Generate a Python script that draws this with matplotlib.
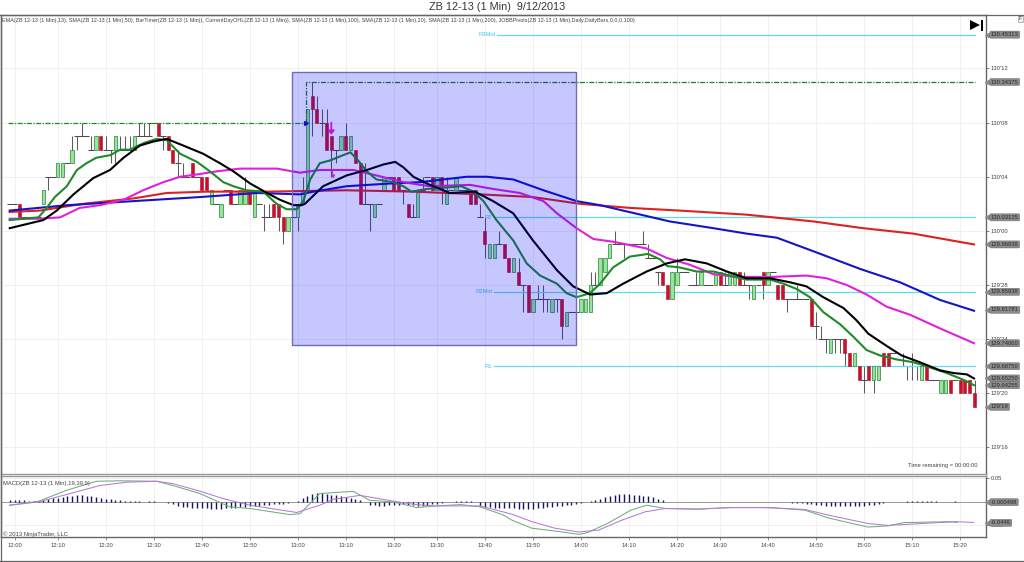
import numpy as np
import matplotlib
matplotlib.use("Agg")
import matplotlib.pyplot as plt
from matplotlib.patches import Rectangle, Polygon

plt.rcParams['font.family'] = ['Liberation Sans', 'DejaVu Sans']

# ---- data: bars from index -1 (11:59) to 200 (15:23), prices in 32nds above 129'00
first_bar = -1
open_32 = [34,
 34,34,33,33,33,33,34,36,36,36, 36,37,37,39,39,39,38,38,39,38,
 38,38,38,38,38,38,39,39,39,40, 40,39,39,38,37,36,36,37,36,36,
 36,34,34,33,35,35,34,34,34,35, 33,34,33,33,34,34,33,32,33,33,
 34,35,42,41,40,40,39,38,38,39, 38,38,37,34,34,33,34,35,36,36,
 36,35,34,33,33,35,36,36,35,36, 34,35,35,35,35,35,35,33,32,30,
 30,31,31,30,29,29,28,28,26,27, 27,27,26,27,27,25,26,26,26,26,
 26,28,28,29,30,31,31,31,31,31, 31,31,30,30,29,29,28,27,28,29,
 29,28,28,28,28,28,28,29,28,28, 28,29,28,28,27,28,29,28,29,28,
 28,27,27,27,27,27,27,25,24,24, 23,24,24,24,23,22,22,21,22,21,
 21,23,23,23,22,22,22,22,22,21, 22,21,21,20,20,21,21,21,21,21,20]
close_32 = [34,
 34,33,33,33,33,33,35,36,36,37, 37,37,38,39,39,39,38,39,38,38,
 38,39,38,38,38,39,39,39,39,40, 39,39,38,37,37,36,36,36,36,35,
 35,35,34,34,35,34,34,35,35,34, 35,34,33,33,33,33,32,33,33,34,
 35,41,41,40,40,38,38,38,39,38, 39,37,34,34,34,34,34,36,36,35,
 35,35,33,33,35,35,36,35,36,35, 35,35,36,35,35,34,34,33,31,31,
 31,31,30,29,30,28,28,26,27,27, 27,27,27,27,25,26,26,26,27,27,
 28,28,30,30,31,31,31,31,31,31, 31,31,30,30,29,28,27,29,29,29,
 29,28,28,29,28,28,29,28,28,29, 29,28,28,28,28,28,28,29,29,27,
 27,27,27,27,27,27,25,25,24,24, 24,24,24,23,22,23,21,21,21,22,
 22,22,22,23,22,22,22,22,22,22, 21,21,21,21,21,20,21,20,20,20,19]
high_32 = [34,
 34,34,33,33,33,33,35,36,36,37, 37,37,39,39,40,39,39,39,39,39,
 38,39,39,39,39,39,40,40,40,40, 40,39,39,38,38,37,36,37,36,36,
 36,35,34,34,35,35,34,35,36,35, 35,34,34,34,34,34,33,33,33,34,
 36,41,43,42,41,41,39,38,39,40, 39,38,37,37,34,34,34,36,36,36,
 36,35,34,34,35,36,36,36,36,36, 36,35,36,35,35,35,35,34,33,31,
 31,32,31,30,30,30,28,28,27,28, 28,27,27,27,27,26,26,26,27,27,
 29,29,30,30,31,32,31,31,31,31, 31,32,31,30,29,29,28,29,30,29,
 29,28,29,29,28,28,29,29,29,29, 29,29,29,28,28,28,29,29,29,28,
 28,27,27,28,27,27,27,26,25,24, 24,24,24,24,23,23,22,22,22,22,
 22,23,23,23,22,23,22,23,22,22, 22,21,21,21,21,21,21,21,21,21,21]
low_32 = [34,
 34,33,33,33,33,33,34,35,36,36, 36,37,37,38,39,39,38,38,38,38,
 37,37,38,38,38,38,39,39,39,40, 39,38,38,37,36,36,36,36,36,35,
 35,34,34,33,35,34,34,34,34,34, 33,34,32,33,33,32,31,32,33,32,
 34,35,39,40,39,38,36,37,38,38, 38,37,34,34,32,33,34,35,36,35,
 35,34,33,33,33,35,36,35,35,34, 34,35,35,35,35,34,34,33,30,30,
 30,31,30,29,29,28,26,26,26,27, 26,26,26,26,24,25,26,26,26,26,
 26,28,28,29,30,31,31,30,31,31, 31,31,30,30,28,28,27,27,28,29,
 29,28,28,28,28,28,28,28,28,28, 28,28,28,27,27,28,27,28,29,27,
 27,26,27,27,27,27,25,24,24,23, 23,23,23,22,22,22,21,20,21,20,
 21,22,22,23,22,22,21,21,21,21, 21,21,21,20,20,20,21,20,20,20,19]

ema13_x = [-1,5,6.7,8.4,10.9,13,15,17,20,22,24,27,29.6,31.7,34.5,38,40.7,43.5,45.6,48.4,51.8,54.6,56.7,58.8,60.2,
           61.6,63.6,65.7,68.5,70,71.6,73.4,75.4,78.9,81,82.7,85.9,90,93.1,95.6,97.7,100.4,103.9,106.7,109.5,113,115,117.1,
           119.9,122,124.7,128.2,132,134.5,136,138.6,142.1,145.6,149,152.5,157.4,160.2,163,165.7,168.5,172,174.7,177.5,180.3,183.8,187.2,190,194.2,197.7,199.9]
ema13_y = [32.8,33,33.7,34.5,35.3,36.5,37,37.4,37.6,38,38,38.5,38.8,38.7,37.7,37.1,36.4,35.6,35.3,35,34.9,34,33.6,33.6,34.2,
           35.8,37,37.2,37.6,37.8,37.2,36.4,35.8,35.6,35.3,34.9,35.1,35.2,35.3,34.9,34.2,32.8,31.3,29.6,28.7,28.1,27.4,27.1,
           27.4,28.1,29.3,30.1,30.3,29.9,29.4,29.3,29,29,28.7,28.4,28.4,28.1,27.7,27.1,26,25.1,24.2,23.2,22.8,22.5,22.3,22,21.5,21,20.6]
sma20_x = [-1,2.5,6,8.8,12.3,16.4,19.9,22.7,26.1,28.9,31.7,35.2,39.3,42.8,45.6,49.1,52.6,55.3,58.1,59.8,60.5,64.3,69.2,73.4,76.8,79.3,81,83.1,85.9,90.7,95.9,99.7,103.9,108,113,116.4,
           119.9,123.4,126.8,131.7,135.9,139.7,144.2,148.4,152.5,157.4,161.6,165,168.5,172.7,175.4,177.9,181.7,184.8,188.6,192.8,195.6,198.4,199.9]
sma20_y = [32.2,32.5,32.8,33.5,34.7,35.9,36.5,37.4,38.3,38.6,38.8,38.3,37.7,37,36.4,35.5,34.8,34.3,33.9,33.9,34,35.3,36.1,36.5,36.9,37.1,36.7,36,35.5,34.8,34.9,34.2,33.3,31.3,29.1,27.9,
           27.3,27.4,28.1,29,29.6,29.9,29.6,29,28.5,28.5,28.2,27.9,27.1,26.3,25.4,24.4,23.5,22.8,22.3,21.7,21.5,21.4,21.1]
sma50_x = [-1,5.3,9.5,13.6,17.8,22.7,26.8,31,34.5,38.6,42.1,47,54.7,59.5,63.6,70.6,75.4,81,86.5,94.9,99.7,105.3,110.2,113,117.1,
           120.6,124.7,131.7,135.9,140.7,145.6,150.4,158,165,169.2,173.4,177.5,181.7,186.6,192.8,199.9]
sma50_y = [32.9,32.9,33,33.7,33.9,34.3,35,35.6,36,36.2,36.4,36.6,36.6,36.3,36.5,36.5,36.1,35.6,35.3,35.4,35.1,34.8,34.2,33.3,32.2,
           31.4,31.2,30.7,30,29.5,28.8,28.6,28.6,28.7,28.5,28,27.3,26.4,25.8,24.8,23.7]
sma100_x = [-1,11,24.8,38.6,50.5,59.5,62.3,69.2,78.2,84.5,94.2,98.4,103.9,110.2,117.1,122,126.8,136.5,145.6,152.5,158.8,166.4,176.1,184.5,192.8,199.9]
sma100_y = [33.5,33.9,34.2,34.5,34.8,34.7,34.9,35.3,35.5,35.6,36,36,35.8,35,34.2,33.9,33.5,32.7,32.2,31.8,31.5,30.5,29.2,28.2,26.9,26.1]
sma200_x = [-1,5.3,14.3,24.8,31.7,40,52.5,69.2,83.1,97,108,117.8,128.2,138.6,152.5,166.4,176.8,187.2,199.9]
sma200_y = [33.4,33.5,34,34.4,34.8,34.9,34.9,35,34.9,34.7,34.5,34,33.7,33.5,33.2,32.7,32.2,31.8,31]

prior_high = 40.0
day_high = 43.0
pivot_names = ['R3Mid', 'R2', 'R2Mid', 'R1']
pivot_levels = [46.5, 33.0, 27.5, 22.0]

macd_x = [-1,5,10.9,17.1,22,29.6,33,38.6,44.9,49,57.4,59.5,63.6,70.6,74,78.9,83.8,87.9,92.9,97,101.9,103.6,107.8,112.7,117.5,119.3,123.5,128.4,131.7,135.6,142.5,149.5,157.7,164.7,169.5,177.8,182,185.3,195.1,196.4]
macd_y = [-.007,.0014,.025,.044,.045,.044,.035,.018,-.0106,-.014,-.027,-.025,.018,.0225,.0035,0,-.012,-.0085,-.0056,-.0106,-.028,-.0387,-.056,-.062,-.069,-.0655,-.046,-.0176,-.007,-.014,-.015,-.012,-.012,-.0176,-.034,-.0535,-.051,-.044,-.042,-.0437]
signal_x = [-1,5,10.9,17.8,23.4,29.6,33,38.6,43.5,49,58.8,63.6,66.4,72,77,83,87.2,97,103.6,107.8,112.6,117.5,121.7,126.5,131.4,135.6,142.5,148.8,155.8,164.7,169.5,177.8,182,189,196,199.8]
signal_y = [-.007,0,.016,.035,.042,.044,.039,.023,.007,-.007,-.0225,-.007,.0056,.014,.005,-.005,-.0085,-.0085,-.026,-.042,-.056,-.064,-.06,-.039,-.021,-.014,-.0155,-.012,-.012,-.016,-.028,-.046,-.05,-.046,-.042,-.0437]
hist_v = [.005,
 .005,.004,.004,.003,.002,.003,.004,.006,.008,.009, .011,.012,.013,.014,.014,.013,.012,.011,.009,.007,
 .006,.005,.005,.003,.002,.001,.001,0,.001,.001, 0,-.001,-.003,-.005,-.008,-.01,-.011,-.012,-.012,-.013,
 -.013,-.014,-.014,-.014,-.013,-.012,-.012,-.011,-.01,-.009, -.008,-.008,-.007,-.006,-.005,-.004,-.004,-.003,-.001,.001,
 .009,.013,.016,.018,.018,.016,.015,.014,.012,.011, .008,.006,.004,0,-.006,-.007,-.008,-.008,-.007,-.006,
 -.006,-.005,-.006,-.007,-.008,-.008,-.006,-.005,-.004,-.002, -.001,0,.001,.001,.002,.001,.0005,-.008,-.01,-.011,
 -.012,-.012,-.012,-.012,-.013,-.014,-.014,-.016,-.015,-.013, -.012,-.011,-.01,-.009,-.008,-.007,-.006,-.005,-.003,-.001,
 .002,.004,.007,.01,.012,.015,.016,.017,.016,.015, .014,.013,.012,.01,.007,.004,0,0,0,.0005,
 0,.0005,0,0,0,0,.0005,0,0,.0005, 0,0,.0005,0,.0005,0,.0005,.0005,0,-.0005,
 -.001,-.001,-.002,-.002,-.003,-.004,-.005,-.006,-.007,-.008, -.008,-.008,-.009,-.009,-.009,-.009,-.009,-.008,-.007,-.006,
 -.005,-.003,-.001,0,.0005,0,.001,.001,.002,.001, .001,.001,.001,.0005,.0005,.0005,.001,0,0,0,.0005]

tick_idx = [0,9,19,29,39,49,59,69,79,88,98,108,118,128,138,147,157,167,177,187,197]
tick_times = ['12:00','12:10','12:20','12:30','12:40','12:50','13:00','13:10','13:20','13:30','13:40','13:50',
              '14:00','14:10','14:20','14:30','14:40','14:50','15:00','15:10','15:20']
price_ticks = [44,40,36,32,28,24,20,16]
price_labels = ["130'12","130'08","130'04","130'00","129'28","129'24","129'20","129'16"]
price_tags = [(46.5,'130.45313'),(43,'130.34375'),(33,'130.03125'),(31,'129.96938'),(27.5,'129.85938'),
              (26.17,'129.81781'),(23.7,'129.74000'),(22,'129.68750'),(21.1,'129.65250'),(20.6,'129.64255')]
title = 'ZB 12-13 (1 Min)  9/12/2013'
indicators = ('EMA(ZB 12-13 (1 Min),13), SMA(ZB 12-13 (1 Min),50), BarTimer(ZB 12-13 (1 Min)), '
              'CurrentDayOHL(ZB 12-13 (1 Min)), SMA(ZB 12-13 (1 Min),100), SMA(ZB 12-13 (1 Min),20), '
              'SMA(ZB 12-13 (1 Min),200), JOBBPivots(ZB 12-13 (1 Min),Daily,DailyBars,0,0,0,100)')

for arr in (open_32, close_32, high_32, low_32, hist_v):
    assert len(arr) == 202, len(arr)

# ---- helpers
W, H = 1024, 562
def price(v):
    return 129 + np.asarray(v, dtype=float) / 32

idx = np.arange(first_bar, first_bar + len(open_32))
o, c, h, l = map(price, (open_32, close_32, high_32, low_32))

fig = plt.figure(figsize=(W / 100, H / 100), dpi=100, facecolor='white')
def px_axes(x0, y0, x1, y1):
    return fig.add_axes([x0 / W, 1 - y1 / H, (x1 - x0) / W, (y1 - y0) / H])

PXB = 4.8
X0 = 14.5
xlim = ((1 - X0) / PXB, (986 - X0) / PXB)
TXT = '#444444'
FS = 4.2

ax = px_axes(1, 15, 986, 474)
ax.set_xlim(xlim)
ax.set_ylim(price(14.04), price(47.95))
m = px_axes(1, 475.5, 986, 537)
m.set_xlim(xlim)
m.set_ylim(-0.0747, 0.0563)

for a in (ax, m):
    a.set_xticks(tick_idx)
    a.grid(True, color='#f0f0f0', lw=0.7, zorder=0)
    a.set_axisbelow(True)
    for s in a.spines.values():
        s.set_color('#666666')
        s.set_linewidth(1.0)
    a.yaxis.tick_right()
    a.tick_params(axis='y', length=2.5, width=0.6, color='#666666', labelsize=FS, labelcolor=TXT, pad=1)
ax.spines['bottom'].set_color('#999999')
m.spines['top'].set_color('#999999')
ax.tick_params(axis='x', length=0, labelbottom=False)
m.set_xticklabels(tick_times)
m.tick_params(axis='x', length=2, width=0.5, color='#666666', labelsize=FS, labelcolor=TXT, pad=2)
ax.set_yticks(price(price_ticks))
ax.set_yticklabels(price_labels)
m.set_yticks([0.05, 0, -0.05])
m.set_yticklabels(['0.05', '', '-0.05'])

# ---- candles
up = c > o
dn = c < o
flat = c == o
ax.vlines(idx, l, h, color='#5c5c5c', lw=0.75, zorder=2)
ax.hlines(c[flat], idx[flat] - 0.62, idx[flat] + 0.62, color='#4c4c4c', lw=0.75, zorder=2)
ax.bar(idx[up], (c - o)[up], bottom=o[up], width=0.72, color='#94E894', edgecolor='#3A8A50', lw=0.55, zorder=3)
ax.bar(idx[dn], (o - c)[dn], bottom=c[dn], width=0.66, color='#C8102E', edgecolor='#B01020', lw=0.4, zorder=3)

# ---- moving averages
ax.plot(sma200_x, price(sma200_y), color='#E02020', lw=1.5, zorder=4, solid_joinstyle='round')
ax.plot(sma100_x, price(sma100_y), color='#1414C8', lw=1.5, zorder=4)
ax.plot(sma50_x, price(sma50_y), color='#E020DC', lw=1.5, zorder=4)
ax.plot(ema13_x, price(ema13_y), color='#1E8B28', lw=1.5, zorder=5)
ax.plot(sma20_x, price(sma20_y), color='#000000', lw=1.5, zorder=5)

# ---- levels
start_idx = -1.4
ax.plot([start_idx, 60.8], price([prior_high, prior_high]), color='#1E8B28', lw=0.9, ls=(0, (4, 1.2, 1, 1.2)), zorder=4)
ax.plot([60.8, 60.8, 200], price([prior_high, day_high, day_high]), color='#1E7B28', lw=0.9, ls=(0, (4, 1.2, 1, 1.2)), zorder=4)
ax.plot([60.8], price([prior_high]), marker='>', ms=2.8, color='#1414C8', zorder=5)
for name, lev, x_start in zip(pivot_names, pivot_levels, [100.5, 99.8, 99.8, 99.8]):
    ax.plot([x_start, 200], price([lev, lev]), color='#62DCE8', lw=0.9, zorder=2)
    ax.text(x_start - 0.3, price(lev), name, color='#45C4F0', fontsize=FS, ha='right', va='center', zorder=3)

# ---- signal arrows
ax.annotate('', xy=(66, price(39.1)), xytext=(66, price(40)),
            arrowprops=dict(arrowstyle='-|>,head_width=0.18,head_length=0.22', color='#F020D0', lw=1.3, shrinkA=0, shrinkB=0), zorder=5)
ax.annotate('', xy=(66.5, price(35.9)), xytext=(66.2, price(36.4)),
            arrowprops=dict(arrowstyle='-|>,head_width=0.1,head_length=0.15', color='#F020D0', lw=0.7, shrinkA=0, shrinkB=0), zorder=5)

# ---- highlighted region
ax.add_patch(Rectangle((57.9, price(23.57)), 59, price(43.74) - price(23.57), facecolor=(0, 0, 1, 0.22),
                       edgecolor='#6C6CB8', lw=1.0, zorder=8))

# ---- tags on the price scale
def tag(a, y, s, xpad=3.5, fc='#8c8c8c'):
    a.annotate(s, xy=(1, y), xycoords=('axes fraction', 'data'), xytext=(xpad, 0), textcoords='offset points',
               fontsize=FS, color='#2a2a2a', va='center', ha='left', annotation_clip=False, zorder=20,
               bbox=dict(boxstyle='round,pad=0.18,rounding_size=0.2', fc=fc, ec='#666666', lw=0.3))
    a.plot([1.0012], [y], marker='<', ms=3, color=fc, transform=a.get_yaxis_transform(), clip_on=False, zorder=19)
for lev, s in price_tags:
    tag(ax, price(lev), s)
tag(ax, price(19), "129'19")

ax.text(977, H - 466, 'Time remaining = 00:00:00', transform=None, fontsize=FS, color=TXT, ha='right', va='center')
ax.text(2.5, H - 20.5, indicators, transform=None, fontsize=3.9, color=TXT, ha='left', va='center', zorder=12, clip_on=False)
fig.text(497 / W, 1 - 7 / H, title, fontsize=7.8, color='#333333', ha='center', va='center')

# skip-to-end icon
fig.add_artist(Polygon([[970 / W, 1 - 20 / H], [980 / W, 1 - 25 / H], [970 / W, 1 - 30 / H]], closed=True,
                       fc='black', ec='none', transform=fig.transFigure))
fig.add_artist(Rectangle((981 / W, 1 - 30.5 / H), 1.8 / W, 11 / H, fc='black', ec='none', transform=fig.transFigure))
fig.add_artist(Rectangle((1017.5 / W, 1 - 22 / H), 5.5 / W, 6.5 / H, fc='#eeeeee', ec='#888888', lw=0.4, transform=fig.transFigure))
fig.text(1020.2 / W, 1 - 18.8 / H, 'F', fontsize=3.4, color='#333333', ha='center', va='center')

# ---- MACD panel
m.axhline(0, color='#9a9a9a', lw=0.7, zorder=1)
m.vlines(idx, 0, hist_v, color='#14145E', lw=1.0, zorder=2)
m.plot(macd_x, macd_y, color='#6DB07A', lw=0.75, zorder=3)
m.plot(signal_x, signal_y, color='#B878D8', lw=0.75, zorder=4)
m.text(0.002, 0.862, 'MACD(ZB 12-13 (1 Min),19,39,9)', transform=m.transAxes, fontsize=FS, color=TXT, ha='left', va='center')
m.text(0.002, 0.05, '\u00a9 2013 NinjaTrader, LLC', transform=m.transAxes, fontsize=FS, color=TXT, ha='left', va='center')
tag(m, -0.000498, '-0.000498')
tag(m, -0.0446, '-0.0446')

# ---- outer frame
fig.add_artist(plt.Line2D([0, 1], [1 - 14.5 / H] * 2, color='#666666', lw=0.9, transform=fig.transFigure))
fig.add_artist(plt.Line2D([0, 1], [1 - 561 / H] * 2, color='#666666', lw=0.9, transform=fig.transFigure))
fig.add_artist(plt.Line2D([0.6 / W] * 2, [1 - 14.5 / H, 1 - 561 / H], color='#666666', lw=0.9, transform=fig.transFigure))

fig.savefig('out.png', dpi=100)
